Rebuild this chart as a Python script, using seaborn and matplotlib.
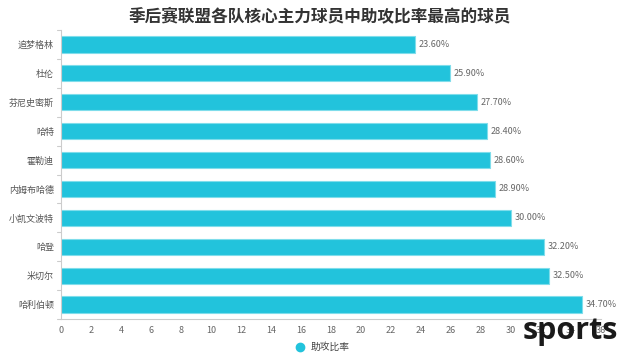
import matplotlib
matplotlib.use("Agg")
import matplotlib.pyplot as plt
import seaborn as sns
import pandas as pd
from matplotlib.lines import Line2D

players = ["追梦格林", "杜伦", "芬尼史密斯", "哈特", "霍勒迪", "内姆布哈德", "小凯文波特", "哈登", "米切尔", "哈利伯顿"]
assist_rate = [23.6, 25.9, 27.7, 28.4, 28.6, 28.9, 30.0, 32.2, 32.5, 34.7]
x_ticks = list(range(0, 37, 2))
series_name = "助攻比率"
title = "季后赛联盟各队核心主力球员中助攻比率最高的球员"

sns.set_theme(style="white")
plt.rcParams["font.family"] = ["Noto Sans CJK SC", "DejaVu Sans"]

df = pd.DataFrame({"player": players, "rate": assist_rate})

fig = plt.figure(figsize=(6.4, 3.61), dpi=100)
ax = fig.add_axes([61 / 640, 1 - 319 / 361, 540 / 640, 289 / 361])

bar_color = "#22C3DC"
sns.barplot(data=df, y="player", x="rate", orient="h", color=bar_color,
            width=0.56, ax=ax, edgecolor="#7FDDEB", linewidth=0.8, saturation=1)

for i, v in enumerate(assist_rate):
    ax.text(v + 0.25, i, f"{v:.2f}%", va="center", ha="left", fontsize=6.5, color="#666666")

ax.set_ylim(len(players) - 0.5, -0.5)
ax.set_xlim(0, 36)
ax.set_xticks(x_ticks)
ax.set_xticklabels([str(t) for t in x_ticks], fontsize=6.5, color="#666666")
ax.tick_params(axis="y", labelsize=6.5, labelcolor="#555555", length=0, pad=5)
ax.tick_params(axis="x", length=0, pad=5)
ax.set_xlabel("")
ax.set_ylabel("")

# small category ticks between rows
for b in [i - 0.5 for i in range(len(players) + 1)]:
    ax.plot([-0.25, 0], [b, b], color="#CCCCCC", lw=0.8, clip_on=False)

for side in ["top", "right"]:
    ax.spines[side].set_visible(False)
ax.spines["left"].set_color("#CCCCCC")
ax.spines["bottom"].set_color("#CCCCCC")
ax.spines["left"].set_linewidth(0.8)
ax.spines["bottom"].set_linewidth(0.8)

fig.text(0.5, 1 - 16 / 361, title, ha="center", va="center", fontsize=12,
         fontweight="bold", color="#333333")

handle = Line2D([0], [0], marker="o", color="none", markerfacecolor=bar_color,
                markeredgecolor=bar_color, markersize=6)
fig.legend([handle], [series_name], loc="center", bbox_to_anchor=(0.5, 1 - 347 / 361),
           frameon=False, fontsize=7, handletextpad=0.2, labelcolor="#444444")

fig.text(523 / 640, 1 - 339 / 361, "sports", ha="left", va="baseline", fontsize=22,
         fontweight="bold", color="#1a1a1a", family=["Open Sans", "DejaVu Sans"])

fig.savefig("out.png", dpi=100)
